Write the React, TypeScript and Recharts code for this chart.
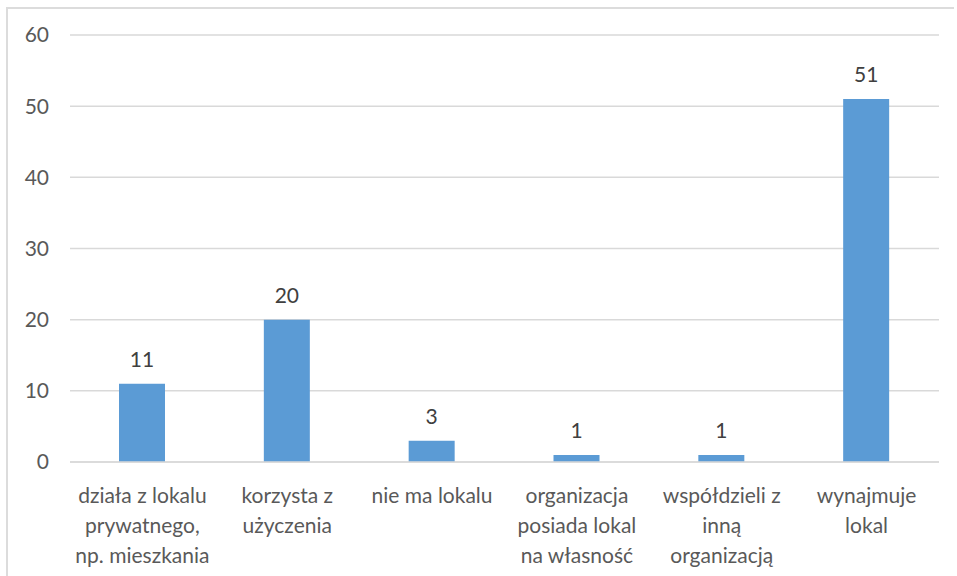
import React from 'react';
import { BarChart, Bar, XAxis, YAxis, CartesianGrid, LabelList } from 'recharts';

const categories = [
  'działa z lokalu\nprywatnego,\nnp. mieszkania',
  'korzysta z\nużyczenia',
  'nie ma lokalu',
  'organizacja\nposiada lokal\nna własność',
  'współdzieli z\ninną\norganizacją',
  'wynajmuje\nlokal',
];
const counts = [11, 20, 3, 1, 1, 51];
const yTicks = [0, 10, 20, 30, 40, 50, 60];

const data = categories.map((name, i) => ({ name, value: counts[i] }));

const FONT = 'Lato, "Open Sans", sans-serif';

// multi-line category label, lines split on \n
const CategoryTick = (props: any) => {
  const { x, y, payload } = props;
  const lines = String(payload.value).split('\n');
  return (
    <text x={x} y={y} textAnchor="middle" fill="#595959" fontSize={21} fontFamily={FONT}>
      {lines.map((line, i) => (
        <tspan key={i} x={x} dy={i === 0 ? 33 : 30}>
          {line}
        </tspan>
      ))}
    </text>
  );
};

const App: React.FC = () => {
  return (
    <div style={{ position: 'absolute', left: 0, top: 0, width: 957, height: 576, background: '#fff' }}>
      <div
        style={{
          position: 'absolute',
          left: 6,
          top: 7,
          width: 946,
          height: 569,
          borderTop: '2px solid #dcdcdc',
          borderLeft: '2px solid #dcdcdc',
        }}
      />
      <div style={{ position: 'absolute', left: 0, top: 0 }}>
        <BarChart width={957} height={576} data={data} margin={{ top: 35, right: 18, bottom: 0, left: 0 }}>
          <CartesianGrid horizontal vertical={false} stroke="#d9d9d9" strokeWidth={1.5} />
          <XAxis
            dataKey="name"
            height={114}
            tickLine={false}
            axisLine={{ stroke: '#d9d9d9', strokeWidth: 1.5 }}
            tick={<CategoryTick />}
            interval={0}
          />
          <YAxis
            width={70}
            domain={[0, 60]}
            ticks={yTicks}
            tickLine={false}
            axisLine={false}
            tickMargin={15}
            tick={{ fill: '#595959', fontSize: 21, fontFamily: FONT }}
          />
          <Bar dataKey="value" fill="#5b9bd5" barSize={46} isAnimationActive={false}>
            <LabelList
              dataKey="value"
              position="top"
              offset={17}
              fill="#404040"
              fontSize={21}
              fontFamily={FONT}
            />
          </Bar>
        </BarChart>
      </div>
    </div>
  );
};

export default App;
